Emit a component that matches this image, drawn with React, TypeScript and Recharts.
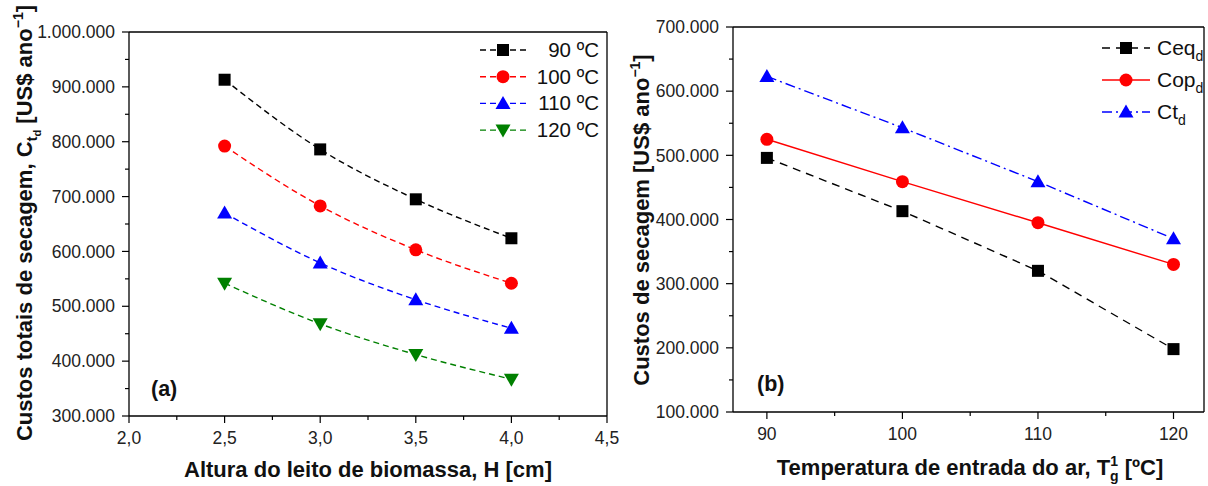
import React from 'react';
import { LineChart, Line, XAxis, YAxis, ReferenceLine, Legend } from 'recharts';

const FONT = '"Liberation Sans", Arial, Helvetica, sans-serif';

// ---- Data (a) ----
const bedHeights = [2.5, 3.0, 3.5, 4.0];
const cost90 = [913000, 786000, 695000, 624000];
const cost100 = [792000, 683000, 603000, 542000];
const cost110 = [670000, 579000, 512000, 460000];
const cost120 = [542000, 468000, 412000, 367000];
const leftNames = ['90 ºC', '100 ºC', '110 ºC', '120 ºC'];

// ---- Data (b) ----
const inletTemps = [90, 100, 110, 120];
const ceqValues = [496000, 413000, 320000, 198000];
const copValues = [525000, 459000, 395000, 330000];
const ctValues = [623000, 543000, 459000, 370000];

// ---- Ticks ----
const leftXTicks = [2.0, 2.25, 2.5, 2.75, 3.0, 3.25, 3.5, 3.75, 4.0, 4.25, 4.5];
const leftYTicks = [300000, 350000, 400000, 450000, 500000, 550000, 600000, 650000, 700000, 750000, 800000, 850000, 900000, 950000, 1000000];
const rightXTicks = [90, 95, 100, 105, 110, 115, 120];
const rightYTicks = [100000, 150000, 200000, 250000, 300000, 350000, 400000, 450000, 500000, 550000, 600000, 650000, 700000];

const leftData = bedHeights.map((h, i) => ({ h, c90: cost90[i], c100: cost100[i], c110: cost110[i], c120: cost120[i] }));
const rightData = inletTemps.map((t, i) => ({ t, ceq: ceqValues[i], cop: copValues[i], ct: ctValues[i] }));

const leftSeries = [
  { key: 'c90', color: '#000000', shape: 'square' },
  { key: 'c100', color: '#ff0000', shape: 'circle' },
  { key: 'c110', color: '#0000ff', shape: 'up' },
  { key: 'c120', color: '#008000', shape: 'down' },
];

const fmtThousands = (v: number) => String(Math.round(v)).replace(/\B(?=(\d{3})+(?!\d))/g, '.');
const fmtComma = (v: number) => v.toFixed(1).replace('.', ',');

function Marker({ shape, cx, cy, color }: { shape: string; cx: number; cy: number; color: string }) {
  if (cx == null || cy == null) return null;
  if (shape === 'square') return <rect x={cx - 6} y={cy - 6} width={12} height={12} fill={color} />;
  if (shape === 'circle') return <circle cx={cx} cy={cy} r={6.5} fill={color} />;
  if (shape === 'up')
    return <polygon points={`${cx},${cy - 7.5} ${cx + 7.5},${cy + 5.5} ${cx - 7.5},${cy + 5.5}`} fill={color} />;
  return <polygon points={`${cx},${cy + 7.5} ${cx + 7.5},${cy - 5.5} ${cx - 7.5},${cy - 5.5}`} fill={color} />;
}

const makeDot = (shape: string, color: string) => (p: any) => (
  <Marker key={`dot-${shape}-${p.index}`} shape={shape} cx={p.cx} cy={p.cy} color={color} />
);

const makeXTick = (isMajor: (v: number) => boolean, fmt: (v: number) => string) => (p: any) => {
  const v = p.payload.value;
  const major = isMajor(v);
  return (
    <g key={`xt-${v}`}>
      <line x1={p.x} x2={p.x} y1={p.y} y2={p.y + (major ? 7 : 4)} stroke="#000" strokeWidth={1.2} />
      {major && (
        <text x={p.x} y={p.y + 16} dy="0.71em" textAnchor="middle" fontSize={17.5} fontFamily={FONT} fill="#222">
          {fmt(v)}
        </text>
      )}
    </g>
  );
};

const makeYTick = (isMajor: (v: number) => boolean, fmt: (v: number) => string) => (p: any) => {
  const v = p.payload.value;
  const major = isMajor(v);
  return (
    <g key={`yt-${v}`}>
      <line x1={p.x - (major ? 7 : 4)} x2={p.x} y1={p.y} y2={p.y} stroke="#000" strokeWidth={1.2} />
      {major && (
        <text x={p.x - 14} y={p.y} dy="0.355em" textAnchor="end" fontSize={17.5} fontFamily={FONT} fill="#222">
          {fmt(v)}
        </text>
      )}
    </g>
  );
};

const isHalf = (v: number) => Math.abs(v * 2 - Math.round(v * 2)) < 1e-6;
const isTen = (v: number) => v % 10 === 0;
const isHundredK = (v: number) => v % 100000 === 0;

const LeftLegend = () => (
  <svg width={140} height={112} style={{ display: 'block', fontFamily: FONT }}>
    {leftSeries.map((s, i) => {
      const cy = 16 + i * 26.7;
      return (
        <g key={s.key}>
          <line x1={10} x2={58} y1={cy} y2={cy} stroke={s.color} strokeWidth={1.4} strokeDasharray="6 4" />
          <Marker shape={s.shape} cx={33} cy={cy} color={s.color} />
          <text x={129} y={cy + 7} textAnchor="end" fontSize={20.5} fill="#111">
            {leftNames[i]}
          </text>
        </g>
      );
    })}
  </svg>
);

const rightSeries = [
  { key: 'ceq', color: '#000000', shape: 'square', dash: '8 6', base: 'Ceq' },
  { key: 'cop', color: '#ff0000', shape: 'circle', dash: undefined, base: 'Cop' },
  { key: 'ct', color: '#0000ff', shape: 'up', dash: '10 4 2 4', base: 'Ct' },
];

const RightLegend = () => (
  <svg width={110} height={100} style={{ display: 'block', fontFamily: FONT }}>
    {rightSeries.map((s, i) => {
      const cy = 18 + i * 32;
      return (
        <g key={s.key}>
          <line x1={7} x2={55} y1={cy} y2={cy} stroke={s.color} strokeWidth={1.4} strokeDasharray={s.dash} />
          <Marker shape={s.shape} cx={31} cy={cy} color={s.color} />
          <text x={62} y={cy + 7} fontSize={21} fill="#111">
            {s.base}
            <tspan fontSize={14} dy={6}>d</tspan>
          </text>
        </g>
      );
    })}
  </svg>
);

const LeftYTitle = () => (
  <text
    x={32}
    y={223}
    transform="rotate(-90, 32, 223)"
    textAnchor="middle"
    fontSize={22}
    fontWeight="bold"
    fontFamily={FONT}
    fill="#111"
  >
    Custos totais de secagem, C
    <tspan fontSize={15} dy={5}>t</tspan>
    <tspan fontSize={11} dy={4}>d</tspan>
    <tspan fontSize={22} dy={-9}> [US$ ano</tspan>
    <tspan fontSize={14} dy={-9}>−1</tspan>
    <tspan fontSize={22} dy={9}>]</tspan>
  </text>
);

const LeftXTitle = () => (
  <g>
    <text x={368} y={477} textAnchor="middle" fontSize={22} fontWeight="bold" fontFamily={FONT} fill="#111">
      Altura do leito de biomassa, H [cm]
    </text>
    <text x={151} y={396} fontSize={21.5} fontWeight="bold" fontFamily={FONT} fill="#111">
      (a)
    </text>
  </g>
);

const RightYTitle = () => (
  <text
    x={29}
    y={220}
    transform="rotate(-90, 29, 220)"
    textAnchor="middle"
    fontSize={22}
    fontWeight="bold"
    fontFamily={FONT}
    fill="#111"
  >
    Custos de secagem [US$ ano
    <tspan fontSize={14} dy={-9}>−1</tspan>
    <tspan fontSize={22} dy={9}>]</tspan>
  </text>
);

const RightXTitle = () => (
  <g>
    <text x={350} y={475} textAnchor="middle" fontSize={22} fontWeight="bold" fontFamily={FONT} fill="#111">
      Temperatura de entrada do ar, T
      <tspan fontSize={14} dy={-9}>1</tspan>
      <tspan fontSize={14} dx={-8} dy={15}>g</tspan>
      <tspan fontSize={22} dy={-6}> [ºC]</tspan>
    </text>
    <text x={137} y={391} fontSize={21.5} fontWeight="bold" fontFamily={FONT} fill="#111">
      (b)
    </text>
  </g>
);

export default function App() {
  return (
    <div style={{ position: 'absolute', left: 0, top: 0, width: 1208, height: 486, background: '#fff', fontFamily: FONT }}>
      <div style={{ position: 'absolute', left: 0, top: 0 }}>
        <LineChart width={620} height={486} data={leftData} margin={{ top: 32, right: 13, bottom: 40, left: 69 }}>
          <XAxis
            dataKey="h"
            type="number"
            domain={[2.0, 4.5]}
            ticks={leftXTicks}
            interval={0}
            tickSize={0}
            tickMargin={0}
            tickLine={false}
            height={30}
            axisLine={{ stroke: '#000', strokeWidth: 1.3 }}
            tick={makeXTick(isHalf, fmtComma)}
            label={() => <LeftXTitle />}
          />
          <YAxis
            type="number"
            domain={[300000, 1000000]}
            ticks={leftYTicks}
            interval={0}
            tickSize={0}
            tickMargin={0}
            tickLine={false}
            width={60}
            axisLine={{ stroke: '#000', strokeWidth: 1.3 }}
            tick={makeYTick(isHundredK, fmtThousands)}
            label={() => <LeftYTitle />}
          />
          <ReferenceLine y={1000000} stroke="#000" strokeWidth={1.3} />
          <ReferenceLine x={4.5} stroke="#000" strokeWidth={1.3} />
          {leftSeries.map((s) => (
            <Line
              key={s.key}
              dataKey={s.key}
              type="monotone"
              stroke={s.color}
              strokeWidth={1.4}
              strokeDasharray="6 4"
              dot={makeDot(s.shape, s.color)}
              activeDot={false}
              isAnimationActive={false}
            />
          ))}
          <Legend
            layout="vertical"
            align="center"
            verticalAlign="middle"
            wrapperStyle={{ left: 470, top: 34, width: 140, height: 112 }}
            content={() => <LeftLegend />}
          />
        </LineChart>
      </div>
      <div style={{ position: 'absolute', left: 620, top: 0 }}>
        <LineChart width={588} height={486} data={rightData} margin={{ top: 27, right: 4, bottom: 44, left: 53 }}>
          <XAxis
            dataKey="t"
            type="number"
            domain={[87.5, 122.25]}
            ticks={rightXTicks}
            interval={0}
            tickSize={0}
            tickMargin={0}
            tickLine={false}
            height={30}
            axisLine={{ stroke: '#000', strokeWidth: 1.3 }}
            tick={makeXTick(isTen, (v) => String(v))}
            label={() => <RightXTitle />}
          />
          <YAxis
            type="number"
            domain={[100000, 700000]}
            ticks={rightYTicks}
            interval={0}
            tickSize={0}
            tickMargin={0}
            tickLine={false}
            width={60}
            axisLine={{ stroke: '#000', strokeWidth: 1.3 }}
            tick={makeYTick(isHundredK, fmtThousands)}
            label={() => <RightYTitle />}
          />
          <ReferenceLine y={700000} stroke="#000" strokeWidth={1.3} />
          <ReferenceLine x={122.25} stroke="#000" strokeWidth={1.3} />
          {rightSeries.map((s) => (
            <Line
              key={s.key}
              dataKey={s.key}
              type="linear"
              stroke={s.color}
              strokeWidth={1.4}
              strokeDasharray={s.dash}
              dot={makeDot(s.shape, s.color)}
              activeDot={false}
              isAnimationActive={false}
            />
          ))}
          <Legend
            layout="vertical"
            align="center"
            verticalAlign="middle"
            wrapperStyle={{ left: 475, top: 30, width: 110, height: 100 }}
            content={() => <RightLegend />}
          />
        </LineChart>
      </div>
    </div>
  );
}
